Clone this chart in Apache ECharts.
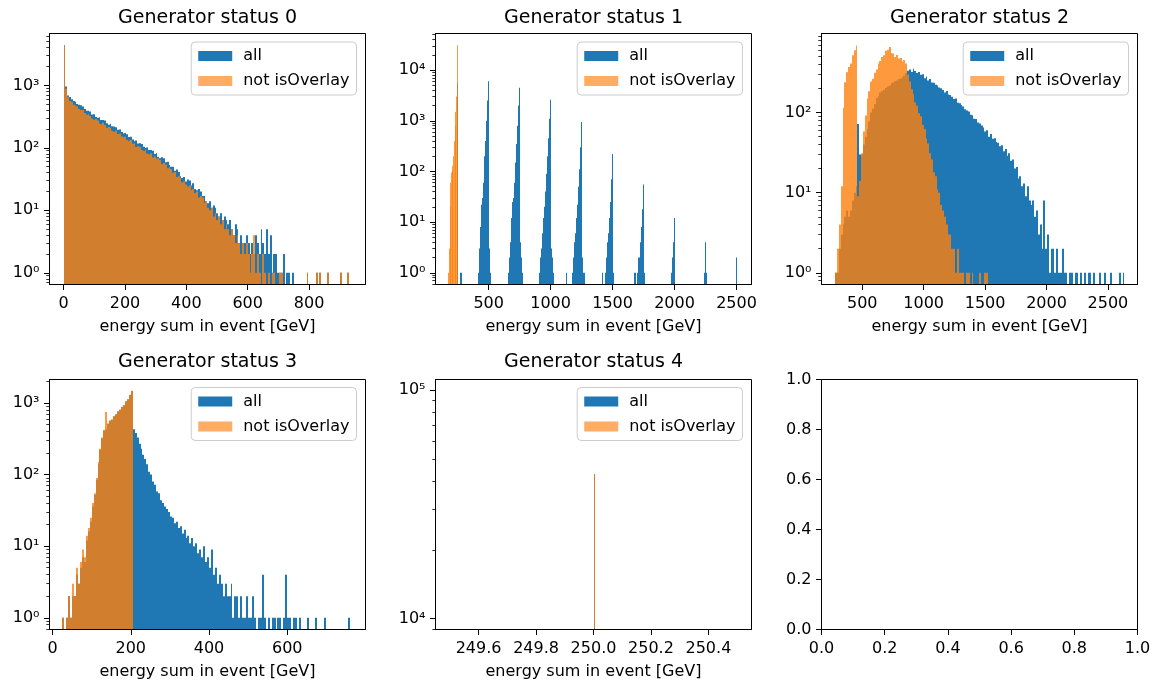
<!DOCTYPE html>
<html>
<head>
<meta charset="utf-8">
<title>Generator status energy sums</title>
<script src="https://cdn.jsdelivr.net/npm/echarts@6.0.0/dist/echarts.min.js"></script>
<style>
html, body { margin: 0; padding: 0; background: #fff; }
#main { width: 1151px; height: 681px; }
</style>
</head>
<body>
<div id="main"></div>
<script>
/* histogram counts */

// Generator status 0 : bins of 6 GeV from 0
var s0Start = 0, s0Width = 6;
var s0All = [
    4400, 960, 690, 650, 600, 560, 548, 505, 488, 480,
    458, 418, 394, 393, 383, 342, 344, 311, 303, 309,
    278, 280, 274, 248, 235, 243, 221, 220, 214, 194,
    197, 179, 170, 173, 165, 149, 150, 136, 128, 131,
    117, 118, 115, 104, 99, 101, 92, 92, 90, 80,
    83, 72, 68, 71, 68, 59, 60, 53, 50, 50,
    43, 45, 41, 35, 33, 34, 29, 31, 30, 25,
    27, 22, 21, 22, 20, 17, 17, 14, 13, 14,
    11, 12, 11, 9, 8, 9, 7, 8, 7, 6,
    7, 5, 4, 6, 5, 3, 4, 3, 3, 4,
    3, 2, 3, 2, 4, 3, 2, 5, 3, 2,
    5, 2, 4, 1, 2, 2, 1, 1, 1, 2,
    0, 1, 1, 0, 1, 0, 0, 0, 0, 0,
    0, 0, 1, 0, 0, 0, 0, 1, 0, 1,
    0, 0, 0, 1, 0, 0, 0, 0, 0, 0,
    1, 0, 0, 0, 1, 0, 0
];
var s0Sel = [
    4300, 880, 655, 560, 545, 488, 470, 462, 418, 405,
    402, 361, 338, 347, 326, 296, 281, 290, 274, 248,
    239, 251, 233, 210, 216, 209, 188, 181, 190, 166,
    169, 152, 148, 151, 133, 130, 134, 116, 118, 103,
    106, 104, 92, 89, 94, 81, 79, 82, 70, 73,
    66, 68, 64, 55, 57, 54, 47, 49, 46, 40,
    41, 34, 35, 33, 28, 29, 26, 24, 25, 21,
    22, 19, 20, 16, 17, 16, 13, 14, 11, 10,
    11, 8, 9, 7, 8, 6, 7, 5, 6, 5,
    4, 5, 4, 3, 4, 3, 2, 3, 2, 3,
    2, 1, 2, 4, 1, 2, 1, 0, 2, 1,
    0, 1, 0, 1, 1, 0, 0, 1, 1, 0,
    0, 0, 0, 0, 0, 0, 0, 0, 0, 0,
    0, 0, 1, 0, 0, 0, 0, 1, 0, 1,
    0, 0, 0, 1, 0, 0, 0, 0, 0, 0,
    1, 0, 0, 0, 1, 0, 0
];

// Generator status 1 : sparse bins (left edge, count)
var s1AllWidth = 8;
var s1AllEdges = [
    244, 266, 274,
    412, 420, 428, 436, 444, 452, 460, 468, 476, 484, 492, 500, 508,
    654, 662, 670, 678, 686, 694, 702, 710, 718, 726, 734, 742, 750, 758, 766,
    904, 912, 920, 928, 936, 944, 952, 960, 968, 976, 984, 992, 1000, 1008, 1016,
    1122, 1170, 1178, 1186, 1194, 1202, 1210, 1218, 1226, 1234, 1242, 1250, 1258, 1266,
    1412, 1436, 1444, 1452, 1460, 1468, 1476, 1484, 1492, 1500,
    1670, 1682, 1694, 1702, 1710, 1718, 1726, 1734, 1742, 1750,
    1968, 1976, 1984, 1992,
    2234, 2242, 2250,
    2492
];
var s1AllCounts = [
    5600, 1, 1,
    1, 3, 8, 22, 30, 60, 200, 400, 1000, 2500, 6000, 3, 1,
    1, 2, 4, 12, 25, 30, 60, 150, 350, 800, 2000, 4500, 4, 2, 1,
    1, 2, 3, 6, 12, 20, 40, 90, 200, 450, 1100, 2600, 3, 2, 1,
    1, 1, 2, 4, 6, 12, 22, 50, 110, 300, 950, 2, 1, 1,
    1, 1, 2, 4, 6, 12, 25, 70, 220, 1,
    1, 1, 1, 2, 2, 4, 8, 18, 55, 1,
    1, 2, 4, 12,
    1, 4, 1,
    2
];
var s1SelWidth = 6;
var s1SelEdges = [172, 178, 184, 190, 196, 202, 208, 214, 220, 226, 232, 238, 244];
var s1SelCounts = [1, 3, 20, 60, 95, 100, 130, 200, 400, 800, 1500, 3000, 31000];

// Generator status 2 : bins of 15 GeV from 280
var s2Start = 280, s2Width = 15;
var s2All = [
    1, 1, 2, 3, 4, 5, 6, 5, 6, 8,
    10, 12, 72, 30, 30, 40, 50, 62, 78, 100,
    112, 128, 152, 160, 178, 185, 192, 205, 212, 218,
    232, 238, 246, 252, 262, 266, 278, 288, 312, 332,
    345, 322, 352, 330, 312, 322, 296, 302, 268, 282,
    252, 262, 238, 236, 222, 218, 206, 202, 192, 178,
    186, 168, 166, 158, 148, 150, 133, 131, 124, 119,
    110, 106, 103, 94, 93, 84, 83, 75, 73, 69,
    65, 58, 60, 50, 54, 47, 48, 43, 42, 38,
    39, 33, 35, 29, 31, 25, 26, 20, 21, 15,
    16, 12, 13, 9, 12, 8, 7, 8, 5, 6,
    3, 4, 2, 8, 2, 3, 1, 2, 2, 1,
    2, 1, 1, 2, 1, 1, 0, 1, 1, 0,
    1, 1, 0, 1, 0, 1, 0, 1, 1, 0,
    1, 0, 0, 1, 0, 0, 1, 0, 0, 1,
    0, 0, 0, 0, 1, 0, 1
];
var s2Sel = [
    1, 2, 4, 12, 115, 240, 320, 370, 410, 520,
    600, 690, 9, 14, 31, 58, 92, 150, 185, 245,
    265, 315, 345, 410, 440, 495, 520, 590, 610, 660,
    555, 545, 495, 525, 475, 480, 435, 455, 410, 300,
    245, 195, 170, 135, 122, 98, 90, 70, 62, 47,
    41, 31, 26, 18, 16, 11, 10, 7, 6, 5,
    4, 3, 3, 2, 2, 1, 2, 1, 1, 1,
    0, 1, 1, 0, 1, 0, 0, 0, 1, 0,
    0, 1, 1, 0
];

// Generator status 3 : bins of 5 GeV from 25
var s3Start = 25, s3Width = 5;
var s3All = [
    1, 0, 1, 2, 1, 2, 2, 4, 3, 5,
    7, 6, 12, 16, 22, 36, 52, 85, 140, 220,
    320, 410, 430, 510, 560, 585, 650, 690, 760, 800,
    880, 930, 1050, 1120, 1300, 1470, 430, 380, 330, 270,
    230, 190, 165, 140, 110, 100, 80, 72, 58, 55,
    44, 40, 36, 33, 30, 26, 25, 21, 22, 18,
    19, 15, 17, 13, 14, 11, 13, 10, 11, 8,
    9, 7, 10, 6, 7, 5, 9, 4, 5, 3,
    4, 3, 2, 3, 2, 2, 3, 1, 2, 2,
    1, 2, 1, 1, 2, 1, 1, 2, 1, 0,
    1, 1, 4, 1, 0, 1, 0, 1, 1, 0,
    1, 1, 0, 1, 4, 1, 1, 0, 1, 1,
    0, 1, 0, 0, 0, 1, 0, 0, 0, 1,
    0, 0, 0, 0, 1, 0, 0, 0, 0, 0,
    0, 0, 0, 0, 0, 0, 1, 0
];
var s3Sel = [
    1, 0, 1, 2, 1, 3, 2, 5, 3, 6,
    9, 7, 14, 18, 25, 40, 55, 90, 150, 230,
    330, 420, 750, 520, 575, 590, 660, 690, 770, 810,
    890, 940, 1060, 1130, 1310, 1480
];

// Generator status 4 : one bin at 250 GeV
var s4Width = 0.0008;
var s4Edges = [250.0];
var s4All = [43000];
var s4Sel = [43000];

// tick values
var xTicks0 = [0, 200, 400, 600, 800];
var xTicks1 = [500, 1000, 1500, 2000, 2500];
var xTicks3 = [0, 200, 400, 600];
var xTicks4 = [249.6, 249.8, 250.0, 250.2, 250.4];
var unitTicks = [0, 0.2, 0.4, 0.6, 0.8, 1.0];
var yTicks0 = [1, 10, 100, 1000];
var yTicks1 = [1, 10, 100, 1000, 10000];
var yTicks2 = [1, 10, 100];
var yTicks4 = [10000, 100000];

var FONT = 'DejaVu Sans';
var BLUE = '#1f77b4', ORANGE = '#ff7f0e';
var SUP = {'0': '\u2070', '1': '\u00b9', '2': '\u00b2', '3': '\u00b3', '4': '\u2074', '5': '\u2075'};

function dense(start, width, counts) {
    var out = [];
    for (var i = 0; i < counts.length; i++) {
        if (counts[i] > 0) out.push([start + i * width, start + (i + 1) * width, counts[i]]);
    }
    return out;
}
function sparse(edges, width, counts) {
    var out = [];
    for (var i = 0; i < edges.length; i++) {
        if (counts[i] > 0) out.push([edges[i], edges[i] + width, counts[i]]);
    }
    return out;
}
function minorTicks(lo, hi) {
    var out = [];
    for (var d = Math.floor(Math.log10(lo)); d <= Math.ceil(Math.log10(hi)); d++) {
        for (var m = 2; m <= 9; m++) {
            var v = m * Math.pow(10, d);
            if (v >= lo && v <= hi) out.push(v);
        }
    }
    return out;
}
function logLabel(v) {
    return '10' + SUP[String(Math.round(Math.log10(v)))];
}
function oneDecimal(v) {
    return Number(v).toFixed(1);
}
function intLabel(v) {
    return String(Math.round(v));
}

// y ranges of the log panels
var yRange = [[0.65, 6760], [0.587, 52800], [0.714, 972], [0.686, 2132], [8950, 111400]];

var labelStyle = {fontSize: 16, color: '#000', fontFamily: FONT};
var tickLine = {color: '#000', width: 1};

function xAxisOf(i, min, max, ticks, fmt, named) {
    return {
        type: 'value', gridIndex: i, min: min, max: max, z: 10,
        name: named ? 'energy sum in event [GeV]' : '',
        nameLocation: 'middle', nameGap: 34, nameTextStyle: labelStyle,
        axisLine: {show: true, onZero: false, lineStyle: tickLine},
        axisTick: {show: true, length: 5.5, lineStyle: tickLine, customValues: ticks},
        axisLabel: Object.assign({customValues: ticks, formatter: fmt, margin: 11}, labelStyle),
        splitLine: {show: false}
    };
}
function yLogOf(i, ticks) {
    return {
        type: 'log', logBase: 10, gridIndex: i, min: yRange[i][0], max: yRange[i][1], z: 10,
        position: 'left',
        axisLine: {show: true, onZero: false, lineStyle: tickLine},
        axisTick: {show: true, length: 5.5, lineStyle: tickLine, customValues: ticks},
        axisLabel: Object.assign({customValues: ticks, formatter: logLabel, margin: 10}, labelStyle),
        splitLine: {show: false}
    };
}
// second log axis on the same grid that only carries the 2..9 minor ticks
function yMinorOf(i) {
    return {
        type: 'log', logBase: 10, gridIndex: i, min: yRange[i][0], max: yRange[i][1], z: 10,
        position: 'left',
        axisLine: {show: false, onZero: false},
        axisTick: {show: true, length: 3.2, lineStyle: {color: '#000', width: 0.8},
            customValues: minorTicks(yRange[i][0], yRange[i][1])},
        axisLabel: {show: false},
        splitLine: {show: false}
    };
}

function hist(name, i, data, color, opacity) {
    var floor = yRange[i][0];
    return {
        type: 'custom', name: name, xAxisIndex: i, yAxisIndex: i,
        clip: true, data: data, encode: {x: [0, 1], y: 2},
        itemStyle: {color: color, opacity: opacity},
        renderItem: function (params, api) {
            var top = api.coord([api.value(0), api.value(2)]);
            var bot = api.coord([api.value(1), floor]);
            var x0 = Math.round(top[0]), x1 = Math.round(bot[0]);
            if (x1 <= x0) x1 = x0 + 1;
            return {
                type: 'rect',
                shape: {x: x0, y: top[1], width: x1 - x0, height: bot[1] - top[1]},
                style: {fill: color, opacity: opacity}
            };
        }
    };
}

function legendAt(right, top) {
    return {
        orient: 'vertical', right: right, top: top, icon: 'rect',
        itemWidth: 34, itemHeight: 10, itemGap: 7, padding: [5, 7, 5, 7],
        backgroundColor: 'rgba(255,255,255,0.8)', borderColor: '#cccccc', borderWidth: 1, borderRadius: 4,
        selectedMode: false,
        textStyle: {fontSize: 16, color: '#000', fontFamily: FONT, lineHeight: 18, padding: [0, 0, 0, 6]},
        data: [
            {name: 'all', itemStyle: {color: BLUE}},
            {name: 'not isOverlay', itemStyle: {color: 'rgba(255,127,14,0.8)'}}
        ]
    };
}

function titleAt(text, x, y) {
    return {
        text: text, left: x, top: y, textAlign: 'center', padding: 0,
        textStyle: {fontSize: 19, fontWeight: 'normal', color: '#000', fontFamily: FONT}
    };
}

var gridBox = [
    [49.5, 33.5, 251], [435.5, 33.5, 251], [821.5, 33.5, 251],
    [49.5, 379.5, 250], [435.5, 379.5, 250], [821.5, 379.5, 250]
];

var myChart = echarts.init(document.getElementById('main'), null, {renderer: 'canvas'});

var option = {
    animation: false,
    backgroundColor: '#fff',
    textStyle: {fontFamily: FONT},
    title: [
        titleAt('Generator status 0', 207.5, 8.5),
        titleAt('Generator status 1', 593.5, 8.5),
        titleAt('Generator status 2', 979.5, 8.5),
        titleAt('Generator status 3', 207.5, 353),
        titleAt('Generator status 4', 593.5, 353)
    ],
    legend: [
        legendAt(794.5, 42), legendAt(408.5, 42), legendAt(22.5, 42),
        legendAt(794.5, 387.5), legendAt(408.5, 387.5)
    ],
    grid: gridBox.map(function (g) {
        return {
            left: g[0], top: g[1], width: 316, height: g[2],
            show: true, borderColor: '#000', borderWidth: 1, backgroundColor: 'transparent',
            containLabel: false, outerBoundsMode: 'none'
        };
    }),
    xAxis: [
        xAxisOf(0, -46, 984, xTicks0, intLabel, true),
        xAxisOf(1, 71, 2621, xTicks1, intLabel, true),
        xAxisOf(2, 168, 2741, xTicks1, intLabel, true),
        xAxisOf(3, -7.7, 800, xTicks3, intLabel, true),
        xAxisOf(4, 249.45, 250.55, xTicks4, oneDecimal, true),
        xAxisOf(5, 0, 1, unitTicks, oneDecimal, false)
    ],
    yAxis: [
        yLogOf(0, yTicks0),
        yLogOf(1, yTicks1),
        yLogOf(2, yTicks2),
        yLogOf(3, yTicks0),
        yLogOf(4, yTicks4),
        {
            type: 'value', gridIndex: 5, min: 0, max: 1, z: 10,
            axisLine: {show: true, onZero: false, lineStyle: tickLine},
            axisTick: {show: true, length: 5.5, lineStyle: tickLine, customValues: unitTicks},
            axisLabel: Object.assign({customValues: unitTicks, formatter: oneDecimal, margin: 10}, labelStyle),
            splitLine: {show: false}
        },
        yMinorOf(0), yMinorOf(1), yMinorOf(2), yMinorOf(3), yMinorOf(4)
    ],
    series: [
        hist('all', 0, dense(s0Start, s0Width, s0All), BLUE, 1),
        hist('not isOverlay', 0, dense(s0Start, s0Width, s0Sel), ORANGE, 0.8),
        hist('all', 1, sparse(s1AllEdges, s1AllWidth, s1AllCounts), BLUE, 1),
        hist('not isOverlay', 1, sparse(s1SelEdges, s1SelWidth, s1SelCounts), ORANGE, 0.8),
        hist('all', 2, dense(s2Start, s2Width, s2All), BLUE, 1),
        hist('not isOverlay', 2, dense(s2Start, s2Width, s2Sel), ORANGE, 0.8),
        hist('all', 3, dense(s3Start, s3Width, s3All), BLUE, 1),
        hist('not isOverlay', 3, dense(s3Start, s3Width, s3Sel), ORANGE, 0.8),
        hist('all', 4, sparse(s4Edges, s4Width, s4All), BLUE, 1),
        hist('not isOverlay', 4, sparse(s4Edges, s4Width, s4Sel), ORANGE, 0.8)
    ]
};

myChart.setOption(option);
</script>
</body>
</html>
